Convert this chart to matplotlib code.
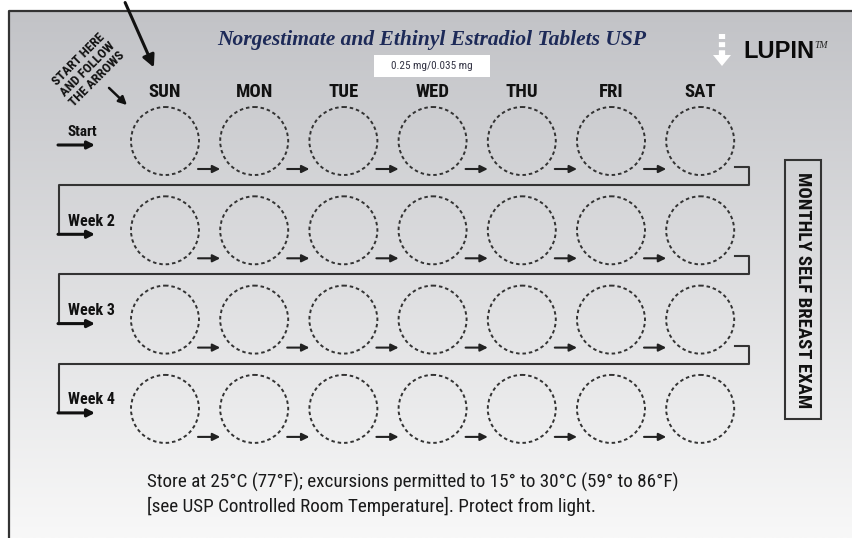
import numpy as np
import matplotlib.pyplot as plt
from matplotlib.patches import Circle, Rectangle, Polygon

# pack contents
days = ["SUN", "MON", "TUE", "WED", "THU", "FRI", "SAT"]
week_labels = ["Start", "Week 2", "Week 3", "Week 4"]
title = "Norgestimate and Ethinyl Estradiol Tablets USP"
dose = "0.25 mg/0.035 mg"
side_label = "MONTHLY SELF BREAST EXAM"
storage = ["Store at 25°C (77°F); excursions permitted to 15° to 30°C (59° to 86°F)",
           "[see USP Controlled Room Temperature]. Protect from light."]

NARROW = ["Roboto Condensed", "Liberation Sans Narrow", "Liberation Sans", "DejaVu Sans"]

W, H = 852, 538
fig = plt.figure(figsize=(W / 100, H / 100), dpi=100)
ax = fig.add_axes([0, 0, 1, 1])
ax.set_xlim(0, W)
ax.set_ylim(H, 0)
ax.axis("off")

# grey gradient card
grad = np.linspace(0, 1, 256)[:, None]
top = np.array([194, 195, 199]) / 255
bot = np.array([248, 248, 248]) / 255
img = top + (bot - top) * grad[:, :, None] * np.ones((1, 2, 1))
ax.imshow(img, extent=[9, W, H, 11], aspect="auto", zorder=0)
ax.plot([9, 9, W], [H, 11, 11], color="#333333", lw=1.6, zorder=1)

# title and strength
ax.text(432, 40, title, fontsize=15.5, family="Liberation Serif", weight="bold",
        style="italic", color="#1d2a58", ha="center", va="center")
ax.add_patch(Rectangle((374, 55), 116, 22, facecolor="white", edgecolor="none", zorder=2))
ax.text(432, 66, dose, fontsize=8, family=NARROW, color="#333344",
        ha="center", va="center", zorder=3)

# logo
ax.plot([722, 722], [34, 57], color="white", lw=4.5, ls=(0, (0.8, 0.5)), zorder=3)
ax.add_patch(Polygon([[713, 55], [731, 55], [722, 66]], closed=True,
                     facecolor="white", edgecolor="none", zorder=3))
ax.text(743, 51, "LUPIN", fontsize=17, family="Liberation Sans", weight="heavy",
        color="#0a0a0a", ha="left", va="center")
ax.text(814, 45, "TM", fontsize=7, family="Liberation Serif", style="italic",
        color="#222222", ha="left", va="center")

# start-here hint
ax.text(88, 69, "START HERE\nAND FOLLOW\nTHE ARROWS", fontsize=9.5, family=NARROW,
        weight="bold", rotation=45, ha="center", va="center", linespacing=1.05,
        multialignment="center", color="#111111", rotation_mode="anchor")
ax.annotate("", xy=(129, 107), xytext=(107, 86),
            arrowprops=dict(arrowstyle="-|>", color="#111111", lw=1.8, mutation_scale=12))
ax.annotate("", xy=(155, 70), xytext=(124, 0),
            arrowprops=dict(arrowstyle="-|>", color="#111111", lw=2.2, mutation_scale=18),
            annotation_clip=False)

# blister grid
x0, dx = 165, 89.2
y0, dy = 141, 89.3
r = 34
xs = [x0 + i * dx for i in range(len(days))]
ys = [y0 + j * dy for j in range(len(week_labels))]

for i, d in enumerate(days):
    ax.text(xs[i], ys[0] - 49, d, fontsize=13.5, family=NARROW, weight="bold",
            ha="center", va="center", color="#111111")

for j, lab in enumerate(week_labels):
    yc = ys[j]
    for i in range(len(days)):
        ax.add_patch(Circle((xs[i], yc), r, fill=False, edgecolor="#333333",
                            lw=1.4, ls=(0, (1.8, 1.5)), zorder=3))
        if i < len(days) - 1:
            ax.annotate("", xy=(xs[i + 1] - r, yc + 28), xytext=(xs[i] + r - 1, yc + 28),
                        arrowprops=dict(arrowstyle="-|>", color="#222222", lw=1.5,
                                        mutation_scale=11, shrinkA=0, shrinkB=0))
    ax.text(68, yc - 9, lab, fontsize=11.5 if j else 11, family=NARROW, weight="bold",
            ha="left", va="center", color="#111111")
    ax.annotate("", xy=(95, yc + 4), xytext=(58, yc + 4),
                arrowprops=dict(arrowstyle="-|>", color="#111111", lw=2.2,
                                mutation_scale=11, shrinkA=0, shrinkB=0))
    if j < len(week_labels) - 1:
        yn = ys[j + 1]
        ax.plot([xs[-1] + 35, 749, 749, 59, 59], [yc + 26, yc + 26, yc + 44, yc + 44, yn + 4],
                color="#333333", lw=1.5, zorder=2)

# side box
ax.add_patch(Rectangle((785, 160), 36, 259, fill=False, edgecolor="#333333", lw=1.5))
ax.text(803, 290, side_label, fontsize=13.5, family=NARROW, weight="bold",
        rotation=-90, ha="center", va="center", color="#111111")

# storage note
for k, line in enumerate(storage):
    ax.text(147, 482 + k * 24, line, fontsize=13.8, family=NARROW,
            ha="left", va="center", color="#1a1a1a")

fig.savefig("out.png", dpi=100)
